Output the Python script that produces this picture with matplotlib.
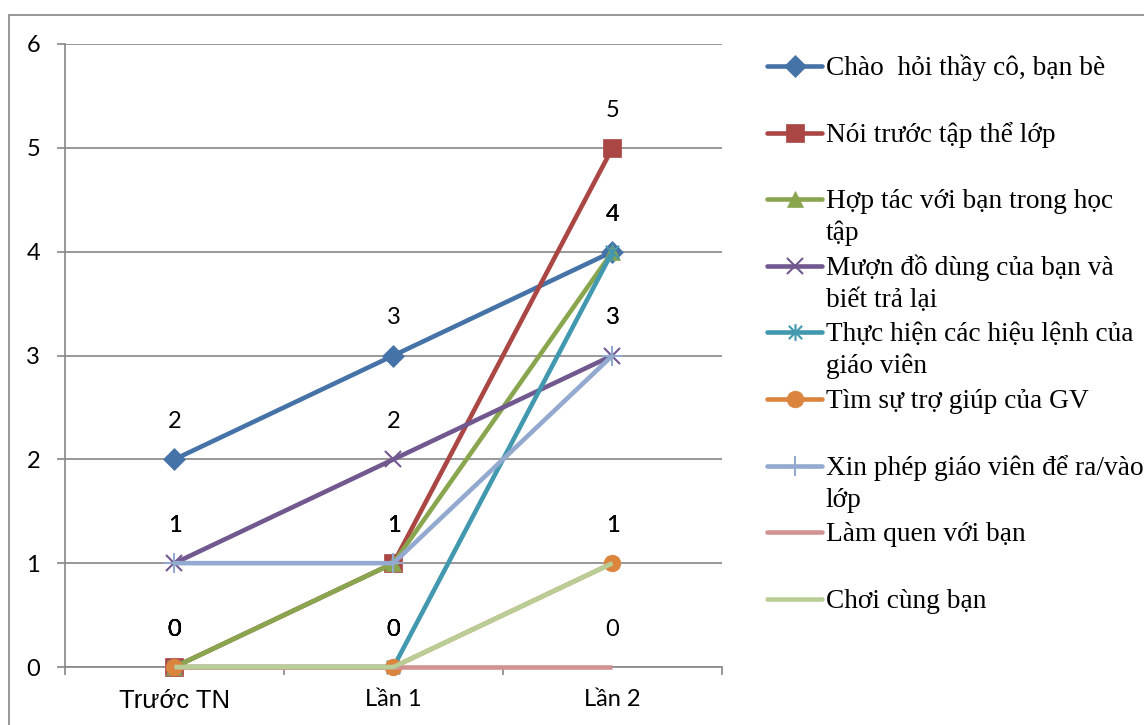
import matplotlib
matplotlib.use('Agg')
import matplotlib.pyplot as plt
from matplotlib.path import Path
from matplotlib.patches import Rectangle

# ---------------- data ----------------
categories = ['Trước TN', 'Lần 1', 'Lần 2']
legend_labels = [
    'Chào  hỏi thầy cô, bạn bè',
    'Nói trước tập thể lớp',
    'Hợp tác với bạn trong học\ntập',
    'Mượn đồ dùng của bạn và\nbiết trả lại',
    'Thực hiện các hiệu lệnh của\ngiáo viên',
    'Tìm sự trợ giúp của GV',
    'Xin phép giáo viên để ra/vào\nlớp',
    'Làm quen với bạn',
    'Chơi cùng bạn',
]
chao_hoi = [2, 3, 4]
noi_truoc = [0, 1, 5]
hop_tac = [0, 1, 4]
muon_do = [1, 2, 3]
thuc_hien = [0, 0, 4]
tim_su = [0, 0, 1]
xin_phep = [1, 1, 3]
lam_quen = [0, 0, 0]
choi_cung = [0, 0, 1]
yticks = [0, 1, 2, 3, 4, 5, 6]

series = [chao_hoi, noi_truoc, hop_tac, muon_do, thuc_hien,
          tim_su, xin_phep, lam_quen, choi_cung]

# ---------------- styles ----------------
colors = ['#4572A7', '#AA4643', '#89A54E', '#71588F', '#4198AF',
          '#DB843D', '#93A9CF', '#D19392', '#B9CD96']
star = Path([(-1, -1), (1, 1), (-1, 1), (1, -1), (0, -1.25), (0, 1.25)],
            [Path.MOVETO, Path.LINETO, Path.MOVETO, Path.LINETO,
             Path.MOVETO, Path.LINETO])
markers = ['D', 's', '^', 'x', star, 'o', '+', None, None]
msizes = [11, 13, 12, 12, 12, 12, 14, 0, 0]
mews = [0, 0, 0, 1.5, 1.5, 0, 1.5, 0, 0]
filled = [True, True, True, False, False, True, False, False, False]

W, H = 1144, 725
fig = plt.figure(figsize=(W / 100, H / 100), dpi=100)
fig.patch.set_facecolor('white')

# outer chart border
fig.patches.append(Rectangle((9 / W, -0.2), 2.0, (H - 15) / H + 0.2,
                             transform=fig.transFigure, fill=False,
                             edgecolor='#868686', linewidth=1.2))

ax = fig.add_axes([65 / W, (H - 667) / H, (722 - 65) / W, (667 - 44) / H])
x = list(range(len(categories)))
lw = 3.3
tick_font = dict(family=['Lato', 'DejaVu Sans'], size=17)

lines = []
for i, vals in enumerate(series):
    c = colors[i]
    kw = dict(color=c, linewidth=lw, solid_capstyle='butt', clip_on=False,
              zorder=3 + i)
    if markers[i] is not None:
        kw.update(marker=markers[i], markersize=msizes[i])
        if filled[i]:
            kw.update(markerfacecolor=c, markeredgecolor=c, markeredgewidth=0.5)
        else:
            kw.update(markerfacecolor='none', markeredgecolor=c,
                      markeredgewidth=mews[i])
    ln, = ax.plot(x, vals, **kw)
    lines.append(ln)

# data labels
for vals in series:
    for xi, v in zip(x, vals):
        ax.annotate(str(v), (xi, v), xytext=(0, 27), textcoords='offset points',
                    ha='center', va='center', color='black', zorder=20,
                    annotation_clip=False, **tick_font)

ax.set_xlim(-0.5, len(categories) - 0.5)
ax.set_ylim(0, 6)
ax.set_yticks(yticks)
ax.set_yticklabels([str(t) for t in yticks], **tick_font)
ax.set_xticks(x)
ax.set_xticklabels(categories, **tick_font)
first = ax.get_xticklabels()[0]
first.set_family(['Liberation Sans', 'DejaVu Sans'])
first.set_fontsize(18.5)
ax.set_xticks([-0.5, 0.5, 1.5, 2.5], minor=True)
ax.tick_params(axis='x', which='major', length=0, pad=16)
ax.tick_params(axis='x', which='minor', length=6, width=1.2, color='#868686')
ax.tick_params(axis='y', length=6, width=1.2, color='#868686', pad=12)
ax.yaxis.grid(True, color='#868686', linewidth=1.2)
ax.set_axisbelow(True)
for s in ['top', 'right']:
    ax.spines[s].set_visible(False)
for s in ['left', 'bottom']:
    ax.spines[s].set_color('#868686')
    ax.spines[s].set_linewidth(1.2)

# ---------------- legend (custom layout, handles mirror the series) ----------------
lax = fig.add_axes([0, 0, 1, 1])
lax.set_xlim(0, W)
lax.set_ylim(H, 0)
lax.axis('off')
leg_font = dict(family=['Liberation Serif', 'DejaVu Serif'], size=19.7)
line_gap = 32
for i, (lab, ln) in enumerate(zip(legend_labels, lines)):
    yc = 66 + 66.6 * i
    lax.plot([767, 822], [yc, yc], color=ln.get_color(), linewidth=lw,
             solid_capstyle='round')
    if markers[i] is not None:
        lax.plot([794.5], [yc], linestyle='none', marker=ln.get_marker(),
                 markersize=ln.get_markersize(),
                 markerfacecolor=ln.get_markerfacecolor(),
                 markeredgecolor=ln.get_markeredgecolor(),
                 markeredgewidth=ln.get_markeredgewidth())
    for k, part in enumerate(lab.split('\n')):
        lax.text(826, yc + 9 + line_gap * k, part, ha='left', va='baseline',
                 color='black', **leg_font)

fig.savefig('out.png', dpi=100)
